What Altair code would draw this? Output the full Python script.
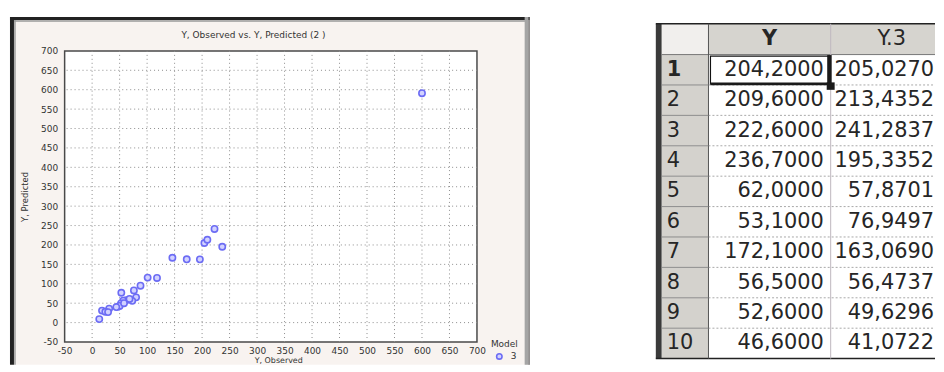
import altair as alt
import pandas as pd

# ---------------- data ----------------
TITLE = "Y, Observed vs. Y, Predicted (2 )"
X_TITLE = "Y, Observed"
Y_TITLE = "Y, Predicted"
LEGEND_TITLE = "Model"
MODEL_LABEL = "3"

Y_OBSERVED = [204.2, 209.6, 222.6, 236.7, 62.0, 53.1, 172.1, 56.5, 52.6, 46.6,
              600.0, 146.0, 196.0, 118.0, 101.0, 88.0, 76.0, 80.0, 73.0, 68.0,
              31.0, 18.0, 24.0, 29.0, 13.0, 50.0, 44.0, 58.0]
Y_PREDICTED = [205.027, 213.4352, 241.2837, 195.3352, 57.8701, 76.9497, 163.069, 56.4737, 49.6296, 41.0722,
               591.0, 167.0, 163.0, 115.0, 116.0, 95.0, 83.0, 65.0, 56.0, 61.0,
               36.0, 31.0, 28.0, 27.0, 9.0, 43.0, 40.0, 50.0]
AXIS_TICKS = [-50, 0, 50, 100, 150, 200, 250, 300, 350, 400, 450, 500, 550, 600, 650, 700]

ROW_LABELS = ["1", "2", "3", "4", "5", "6", "7", "8", "9", "10"]
COL_HEADERS = ["Y", "Y.3"]
COL_Y = ["204,2000", "209,6000", "222,6000", "236,7000", "62,0000",
         "53,1000", "172,1000", "56,5000", "52,6000", "46,6000"]
COL_Y3 = ["205,0270", "213,4352", "241,2837", "195,3352", "57,8701",
          "76,9497", "163,0690", "56,4737", "49,6296", "41,0722"]

# ---------------- styles / layout ----------------
FONT = "DejaVu Sans"
TFONT = "DejaVu Sans"
TXT = "#333333"
PW, PH = 415, 293
PB = 316          # bottom of the left panel (plot coords)
DOMAIN = [-50, 700]

one = pd.DataFrame({"k": [0]})
xs = alt.Scale(domain=DOMAIN, nice=False, zero=False)
ys = alt.Scale(domain=DOMAIN, nice=False, zero=False)

XAXIS = alt.Axis(values=AXIS_TICKS, grid=False, ticks=False, domain=False,
                 labelFont=FONT, labelFontSize=9, labelColor=TXT, labelPadding=5,
                 labelExpr="'' + datum.value", labelOverlap=False, labelFlush=False,
                 titleFont=FONT, titleFontSize=8, titleFontWeight="normal",
                 titleColor=TXT, titleX=215, titleY=19, titleBaseline="middle", zindex=1)
YAXIS = alt.Axis(values=AXIS_TICKS, grid=False, ticks=False, domain=False,
                 labelFont=FONT, labelFontSize=9, labelColor=TXT, labelPadding=7,
                 labelExpr="'' + datum.value", labelOverlap=False, labelFlush=False,
                 titleFont=FONT, titleFontSize=8.5, titleFontWeight="normal",
                 titleColor=TXT, titlePadding=11, zindex=1)

# panel background and frame
panel = alt.Chart(one).mark_rect(fill="#f8f3f0").encode(
    x=alt.value(-55), x2=alt.value(468), y=alt.value(-34), y2=alt.value(PB))
top_dark = alt.Chart(one).mark_rule(color="#222222", strokeWidth=3).encode(
    x=alt.value(-55), x2=alt.value(468), y=alt.value(-32.5))
top_grey = alt.Chart(one).mark_rule(color="#9a9a9a", strokeWidth=1.5).encode(
    x=alt.value(-51), x2=alt.value(464), y=alt.value(-30))
left_dark = alt.Chart(one).mark_rule(color="#222222", strokeWidth=4).encode(
    x=alt.value(-53), y=alt.value(-34), y2=alt.value(PB))
left_grey = alt.Chart(one).mark_rule(color="#9a9a9a", strokeWidth=1.5).encode(
    x=alt.value(-50), y=alt.value(-31), y2=alt.value(PB))
right_grey = alt.Chart(one).mark_rule(color="#a5a5a5", strokeWidth=4).encode(
    x=alt.value(465), y=alt.value(-34), y2=alt.value(PB))
right_dark = alt.Chart(one).mark_rule(color="#555555", strokeWidth=1).encode(
    x=alt.value(467.5), y=alt.value(-34), y2=alt.value(PB))

plot_bg = alt.Chart(one).mark_rect(fill="white", stroke="#4a4a4a", strokeWidth=1.5).encode(
    x=alt.value(0), x2=alt.value(PW), y=alt.value(0), y2=alt.value(PH))

grid_df = pd.DataFrame({"t": AXIS_TICKS[1:-1]})
grid_v = alt.Chart(grid_df).mark_rule(color="#8c8c8c", strokeDash=[1, 3], strokeWidth=1).encode(
    x=alt.X("t:Q", scale=xs, axis=XAXIS, title=X_TITLE))
grid_h = alt.Chart(grid_df).mark_rule(color="#8c8c8c", strokeDash=[1, 3], strokeWidth=1).encode(
    y=alt.Y("t:Q", scale=ys, axis=YAXIS, title=Y_TITLE))

pts = pd.DataFrame({"obs": Y_OBSERVED, "pred": Y_PREDICTED, "model": MODEL_LABEL})
points = alt.Chart(pts).mark_point(shape="circle", filled=False, size=40, strokeWidth=1.6,
                                   fill="#d2d2ff", opacity=1).encode(
    x=alt.X("obs:Q", scale=xs, axis=XAXIS, title=X_TITLE),
    y=alt.Y("pred:Q", scale=ys, axis=YAXIS, title=Y_TITLE),
    color=alt.Color("model:N", scale=alt.Scale(range=["#6c6cf4"]),
                    legend=alt.Legend(title=LEGEND_TITLE, orient="none", legendX=429, legendY=291,
                                      titleFont=FONT, titleFontSize=9, titleFontWeight="normal",
                                      titleColor=TXT, labelFont=FONT, labelFontSize=9,
                                      labelColor=TXT, symbolType="circle", symbolSize=30,
                                      symbolStrokeWidth=1.6, symbolFillColor="#d2d2ff",
                                      symbolOffset=4, padding=0, titlePadding=3,
                                      labelOffset=7, zindex=1)))

title_txt = alt.Chart(one).mark_text(text=TITLE, font=FONT, fontSize=9, color=TXT,
                                     align="center", baseline="middle").encode(
    x=alt.value(190), y=alt.value(-15.5))

left = alt.layer(panel, top_dark, top_grey, left_dark, left_grey, right_grey, right_dark,
                 plot_bg, grid_v, grid_h, points, title_txt).properties(width=PW, height=PH)

# ---------------- table ----------------
TW = 281          # visible width (the last column is cut by the window)
T_OFF = 27.3      # table top sits this far above the scatter plot top
TVH = 310
HEADER_H = 31
ROW_H = 30.6
COL_W = [6, 47, 123, 123]
EDGES = [0]
for w in COL_W:
    EDGES.append(EDGES[-1] + w)
TB = HEADER_H + ROW_H * len(ROW_LABELS)

tx = alt.Scale(domain=[0, TW], nice=False, zero=False)
ty = alt.Scale(domain=[T_OFF, T_OFF + TVH], reverse=True, nice=False, zero=False)

def X(f):
    return alt.X(f, scale=tx, axis=None)

def Y(f):
    return alt.Y(f, scale=ty, axis=None)

cells = [
    dict(x=EDGES[1], x2=TW, y=HEADER_H, y2=TB, c="#ffffff"),
    dict(x=EDGES[0], x2=EDGES[1], y=0, y2=TB, c="#3a3a3a"),
    dict(x=EDGES[1], x2=EDGES[2], y=0, y2=HEADER_H, c="#f1efed"),
    dict(x=EDGES[2], x2=EDGES[3], y=0, y2=HEADER_H, c="#d6d4cf"),
    dict(x=EDGES[3], x2=TW, y=0, y2=HEADER_H, c="#d6d4cf"),
]
for i in range(len(ROW_LABELS)):
    cells.append(dict(x=EDGES[1], x2=EDGES[2], y=HEADER_H + i * ROW_H,
                      y2=HEADER_H + (i + 1) * ROW_H, c="#d4d2cd"))
cells_df = pd.DataFrame(cells)
cell_layer = alt.Chart(cells_df).mark_rect().encode(
    x=X("x:Q"), x2="x2:Q", y=Y("y:Q"), y2="y2:Q", fill=alt.Fill("c:N", scale=None))

solid = [
    dict(x=0, x2=TW, y=0, y2=0, c="#222222", w=1.5),
    dict(x=0, x2=TW, y=TB, y2=TB, c="#222222", w=1.5),
    dict(x=EDGES[1], x2=TW, y=HEADER_H, y2=HEADER_H, c="#777777", w=1),
    dict(x=EDGES[2], x2=EDGES[2], y=0, y2=TB, c="#555555", w=1),
    dict(x=EDGES[3], x2=EDGES[3], y=0, y2=TB, c="#bdb5bd", w=1),
]
dashed = []
for i in range(1, len(ROW_LABELS)):
    yy = HEADER_H + i * ROW_H
    solid.append(dict(x=EDGES[1], x2=EDGES[2], y=yy, y2=yy, c="#8c8c8c", w=1))
    dashed.append(dict(x=EDGES[2], x2=TW, y=yy, y2=yy))
solid_layer = alt.Chart(pd.DataFrame(solid)).mark_rule().encode(
    x=X("x:Q"), x2="x2:Q", y=Y("y:Q"), y2="y2:Q",
    color=alt.Color("c:N", scale=None), strokeWidth=alt.StrokeWidth("w:Q", scale=None))
dashed_layer = alt.Chart(pd.DataFrame(dashed)).mark_rule(
    color="#a8a8a8", strokeDash=[2, 2], strokeWidth=1).encode(
    x=X("x:Q"), x2="x2:Q", y=Y("y:Q"), y2="y2:Q")

# selection on first Y cell
sel_box = alt.Chart(pd.DataFrame([dict(x=55, x2=175, y=32.5, y2=60.5)])).mark_rect(
    fill=None, stroke="#111111", strokeWidth=1.2).encode(
    x=X("x:Q"), x2="x2:Q", y=Y("y:Q"), y2="y2:Q")
sel_fill = alt.Chart(pd.DataFrame([
    dict(x=172.5, x2=177, y=31.5, y2=61),
    dict(x=55, x2=173, y=59, y2=62),
    dict(x=172, x2=180, y=59, y2=66.5),
])).mark_rect(fill="#1a1a1a").encode(
    x=X("x:Q"), x2="x2:Q", y=Y("y:Q"), y2="y2:Q")

row_c = [HEADER_H + (i + 0.5) * ROW_H for i in range(len(ROW_LABELS))]
SEL = 0
rows_df = pd.DataFrame({"label": ROW_LABELS, "y": row_c,
                        "bold": [i == SEL for i in range(len(ROW_LABELS))]})
vals_df = pd.DataFrame({"v": COL_Y + COL_Y3, "y": row_c + row_c,
                        "x": [EDGES[3] - 7] * len(COL_Y) + [TW - 1] * len(COL_Y3)})
head_df = pd.DataFrame({"h": COL_HEADERS, "x": [(EDGES[2] + EDGES[3]) / 2, (EDGES[3] + EDGES[4]) / 2],
                        "y": [HEADER_H / 2] * 2, "bold": [True, False]})

TCOL = "#262626"
TS = 21
row_norm = alt.Chart(rows_df).transform_filter("!datum.bold").mark_text(
    font=TFONT, fontSize=TS, color=TCOL, align="left", baseline="middle").encode(
    x=alt.value(11), y=Y("y:Q"), text="label:N")
row_bold = alt.Chart(rows_df).transform_filter("datum.bold").mark_text(
    font=TFONT, fontSize=TS, fontWeight="bold", color=TCOL, align="left", baseline="middle").encode(
    x=alt.value(11), y=Y("y:Q"), text="label:N")
vals = alt.Chart(vals_df).mark_text(
    font=TFONT, fontSize=TS, color=TCOL, align="right", baseline="middle").encode(
    x=X("x:Q"), y=Y("y:Q"), text="v:N")
head_b = alt.Chart(head_df).transform_filter("datum.bold").mark_text(
    font=TFONT, fontSize=TS, fontWeight="bold", color=TCOL, align="center", baseline="middle").encode(
    x=X("x:Q"), y=Y("y:Q"), text="h:N")
head_n = alt.Chart(head_df).transform_filter("!datum.bold").mark_text(
    font=TFONT, fontSize=TS, color=TCOL, align="center", baseline="middle").encode(
    x=X("x:Q"), y=Y("y:Q"), text="h:N")

table = alt.layer(cell_layer, dashed_layer, solid_layer, sel_box, sel_fill,
                  row_norm, row_bold, vals, head_b, head_n).properties(width=TW, height=TVH)

chart = alt.hconcat(left, table, spacing=124).properties(
    padding={"left": 0, "top": 6, "right": 0, "bottom": 0}, background="white"
).configure_view(stroke=None)

chart.save("out.html", embed_options={"renderer": "svg", "actions": False})
